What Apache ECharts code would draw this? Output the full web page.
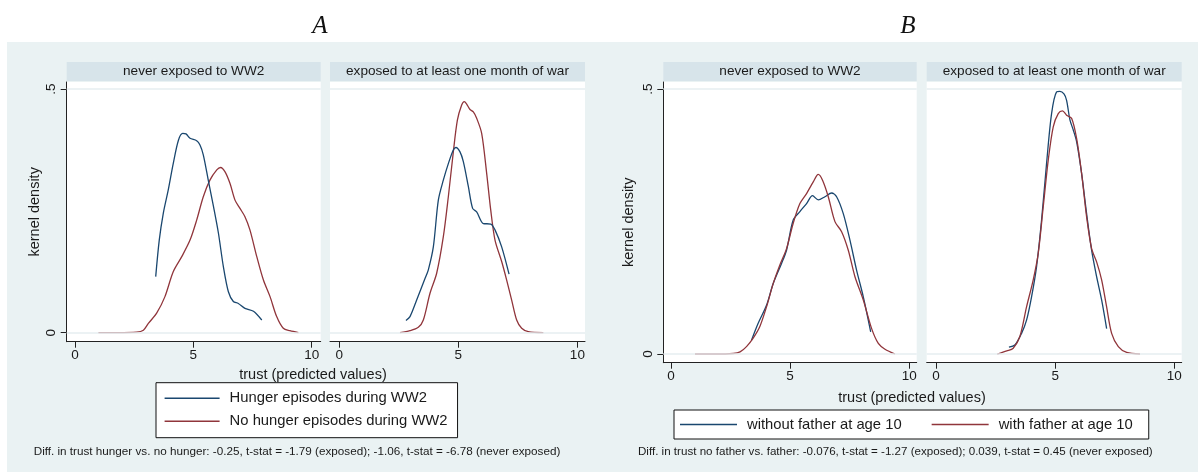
<!DOCTYPE html>
<html>
<head>
<meta charset="utf-8">
<script src="https://cdn.jsdelivr.net/npm/echarts@6/dist/echarts.min.js"></script>
<style>
html,body{margin:0;padding:0;background:#fff;}
#chart{width:1198px;height:472px;}
</style>
</head>
<body>
<div id="chart"></div>
<script>
// ---------- data ----------
const panelTitles = ['A', 'B'];
const facetTitles = ['never exposed to WW2', 'exposed to at least one month of war'];
const xTitle = 'trust (predicted values)';
const yTitle = 'kernel density';
const xTickValues = [0, 5, 10];
const xTickLabels = ['0', '5', '10'];
const yTickValues = [0, 0.5];
const yTickLabels = ['0', '.5'];
const seriesNamesA = ['Hunger episodes during WW2', 'No hunger episodes during WW2'];
const seriesNamesB = ['without father at age 10', 'with father at age 10'];
const noteA = 'Diff. in trust hunger vs. no hunger: -0.25, t-stat = -1.79 (exposed); -1.06, t-stat = -6.78 (never exposed)';
const noteB = 'Diff. in trust no father vs. father: -0.076, t-stat = -1.27 (exposed); 0.039, t-stat = 0.45 (never exposed)';

// Panel A, never exposed
const a1HungerX = [3.41,3.56,3.73,3.94,4.15,4.37,4.55,4.69,4.86,5.14,5.28,5.42,5.63,5.85,6.06,6.27,6.48,6.69,6.90,7.18,7.54,7.89];
const a1HungerY = [0.115,0.190,0.245,0.293,0.347,0.395,0.409,0.408,0.399,0.394,0.385,0.365,0.313,0.259,0.204,0.135,0.084,0.064,0.060,0.050,0.044,0.026];
const a1NoHungerX = [0.99,1.8,2.6,2.89,3.10,3.45,3.80,4.15,4.51,4.86,5.14,5.42,5.70,5.99,6.15,6.34,6.55,6.76,6.97,7.18,7.39,7.68,7.96,8.24,8.52,8.80,9.08,9.44];
const a1NoHungerY = [0,0,0.001,0.005,0.019,0.040,0.074,0.125,0.156,0.190,0.231,0.279,0.313,0.334,0.339,0.330,0.306,0.272,0.255,0.238,0.211,0.156,0.108,0.074,0.033,0.009,0.004,0];
// Panel A, exposed
const a2HungerX = [2.80,2.97,3.25,3.60,3.74,3.95,4.16,4.37,4.58,4.79,4.90,5.07,5.21,5.42,5.60,5.77,6.05,6.36,6.54,6.82,7.13];
const a2HungerY = [0.025,0.033,0.067,0.111,0.129,0.176,0.272,0.313,0.347,0.375,0.380,0.371,0.351,0.300,0.255,0.248,0.224,0.223,0.211,0.176,0.120];
const a2NoHungerX = [2.55,2.97,3.32,3.53,3.81,4.09,4.37,4.58,4.79,4.96,5.14,5.25,5.35,5.49,5.63,5.77,5.98,6.19,6.36,6.54,6.82,7.03,7.24,7.45,7.66,7.94,8.57];
const a2NoHungerY = [0,0.004,0.011,0.026,0.081,0.122,0.197,0.279,0.371,0.436,0.467,0.474,0.469,0.458,0.453,0.440,0.409,0.327,0.252,0.190,0.146,0.108,0.067,0.026,0.009,0.002,0];
// Panel B, never exposed
const b1NoFatherX = [3.38,3.66,4.01,4.29,4.64,4.85,5.13,5.41,5.69,5.94,6.18,6.46,6.74,6.95,7.23,7.51,7.79,8.07,8.38];
const b1NoFatherY = [0.026,0.058,0.092,0.133,0.171,0.196,0.253,0.269,0.284,0.299,0.291,0.297,0.304,0.297,0.265,0.215,0.158,0.108,0.042];
const b1FatherX = [1.01,1.8,2.62,2.90,3.17,3.45,3.73,4.01,4.29,4.57,4.85,5.13,5.41,5.69,5.97,6.18,6.36,6.60,6.88,7.16,7.44,7.72,8.07,8.42,8.70,8.98,9.40];
const b1FatherY = [0,0,0.001,0.004,0.014,0.030,0.052,0.089,0.133,0.168,0.199,0.247,0.284,0.303,0.325,0.339,0.328,0.297,0.250,0.231,0.196,0.146,0.102,0.048,0.020,0.009,0];
// Panel B, exposed
const b2NoFatherX = [3.06,3.31,3.59,3.80,4.01,4.22,4.43,4.64,4.85,5.06,5.20,5.37,5.48,5.62,5.76,5.90,6.11,6.32,6.53,6.74,6.95,7.16];
const b2NoFatherY = [0.013,0.017,0.039,0.064,0.108,0.165,0.253,0.360,0.454,0.495,0.496,0.491,0.479,0.442,0.423,0.401,0.341,0.265,0.196,0.146,0.102,0.048];
const b2FatherX = [2.57,2.97,3.24,3.52,3.80,4.08,4.29,4.50,4.71,4.92,5.13,5.31,5.48,5.69,5.90,6.11,6.32,6.53,6.74,6.95,7.16,7.37,7.65,8.00,8.56];
const b2FatherY = [0,0.006,0.011,0.033,0.089,0.140,0.190,0.278,0.366,0.429,0.454,0.459,0.451,0.445,0.407,0.341,0.259,0.199,0.174,0.140,0.089,0.039,0.014,0.003,0];

// ---------- styling ----------
const NAVY = '#1a476f';
const MAROON = '#90353b';
const BG = '#eaf2f3';
const STRIP = '#d7e4ea';
const FONT = "'Liberation Sans', Arial, Helvetica, sans-serif";
const TXT = '#1a1a1a';

const zip = (xs, ys) => xs.map((x, i) => [x, ys[i]]);

const grids = [
  {left: 66.7, top: 82, width: 254, height: 259.7, xmin: -0.35, xmax: 10.38, ymin: -0.0185, ymax: 0.5144},
  {left: 330, top: 82, width: 255, height: 259.7, xmin: -0.39, xmax: 10.32, ymin: -0.0185, ymax: 0.5144},
  {left: 663.3, top: 82, width: 253.4, height: 280.7, xmin: -0.32, xmax: 10.31, ymin: -0.0164, ymax: 0.5136},
  {left: 926.7, top: 82, width: 255, height: 280.7, xmin: -0.39, xmax: 10.31, ymin: -0.0164, ymax: 0.5136}
];

const gridOpts = grids.map(g => ({
  left: g.left, top: g.top, width: g.width, height: g.height,
  show: true, backgroundColor: '#fff', borderWidth: 0, containLabel: false
}));

const xAxes = grids.map((g, i) => ({
  type: 'value', gridIndex: i, min: g.xmin, max: g.xmax,
  axisLine: {show: true, onZero: false, lineStyle: {color: '#222', width: 1}},
  axisTick: {show: true, inside: false, length: 6, customValues: xTickValues, lineStyle: {color: '#222'}},
  axisLabel: {show: true, customValues: xTickValues, margin: 7,
    formatter: v => xTickLabels[xTickValues.indexOf(v)] ?? '',
    color: TXT, fontSize: 13.5, fontFamily: FONT},
  splitLine: {show: false}
}));

const yAxes = grids.map((g, i) => {
  const first = (i === 0 || i === 2);
  return {
    type: 'value', gridIndex: i, min: g.ymin, max: g.ymax,
    name: first ? yTitle : '', nameLocation: 'middle', nameGap: i === 0 ? 24 : 27,
    nameTextStyle: {color: TXT, fontSize: 14.5, fontFamily: FONT},
    axisLine: {show: first, onZero: false, lineStyle: {color: '#222', width: 1}},
    axisTick: {show: first, inside: false, length: 6, customValues: yTickValues, lineStyle: {color: '#222'}},
    axisLabel: {show: first, customValues: yTickValues, rotate: 90, margin: 8,
      formatter: v => yTickLabels[yTickValues.indexOf(v)] ?? '',
      color: TXT, fontSize: 13.5, fontFamily: FONT},
    splitLine: {show: false}
  };
});

const gridLineMark = {
  silent: true, symbol: 'none', label: {show: false},
  lineStyle: {color: '#e6eef1', width: 1.5, type: 'solid'},
  data: yTickValues.map(v => ({yAxis: v}))
};

function curve(name, color, idx, xs, ys, withGrid) {
  const s = {
    name, type: 'line', xAxisIndex: idx, yAxisIndex: idx,
    data: zip(xs, ys), symbol: 'none', showSymbol: false, smooth: 0.3,
    itemStyle: {color}, lineStyle: {color, width: 1.3}, z: 3
  };
  if (withGrid) s.markLine = gridLineMark;
  return s;
}

const series = [
  curve(seriesNamesA[1], MAROON, 0, a1NoHungerX, a1NoHungerY, true),
  curve(seriesNamesA[0], NAVY, 0, a1HungerX, a1HungerY, false),
  curve(seriesNamesA[1], MAROON, 1, a2NoHungerX, a2NoHungerY, true),
  curve(seriesNamesA[0], NAVY, 1, a2HungerX, a2HungerY, false),
  curve(seriesNamesB[0], NAVY, 2, b1NoFatherX, b1NoFatherY, true),
  curve(seriesNamesB[1], MAROON, 2, b1FatherX, b1FatherY, false),
  curve(seriesNamesB[0], NAVY, 3, b2NoFatherX, b2NoFatherY, true),
  curve(seriesNamesB[1], MAROON, 3, b2FatherX, b2FatherY, false)
];

const legendText = {color: TXT, fontSize: 14.8, fontFamily: FONT, padding: [0, 0, 0, 5], lineHeight: 17};
const legends = [
  {data: seriesNamesA, orient: 'vertical', left: 156, top: 382.7, padding: [7, 10, 8, 8.6],
   itemWidth: 55, itemHeight: 1.5, itemGap: 6, icon: 'rect', selectedMode: false,
   backgroundColor: '#fff', borderColor: '#111', borderWidth: 1, borderRadius: 0, textStyle: legendText},
  {data: seriesNamesB, orient: 'horizontal', left: 674, top: 410, padding: [6, 16, 6, 6],
   itemWidth: 57, itemHeight: 1.5, itemGap: 30, icon: 'rect', selectedMode: false,
   backgroundColor: '#fff', borderColor: '#111', borderWidth: 1, borderRadius: 0, textStyle: legendText}
];

const graphics = [
  {type: 'rect', shape: {x: 7, y: 42, width: 1191, height: 430}, style: {fill: BG}, z: -10, silent: true}
];
grids.forEach((g, i) => {
  graphics.push({type: 'rect', shape: {x: g.left, y: 62, width: g.width, height: 19}, style: {fill: STRIP}, silent: true});
  graphics.push({type: 'text', x: g.left + g.width / 2, y: 71.5,
    style: {text: facetTitles[i % 2], fill: TXT, font: '13.6px ' + FONT, textAlign: 'center', textVerticalAlign: 'middle'}, silent: true});
});
graphics.push(
  {type: 'text', x: 320, y: 26, style: {text: panelTitles[0], fill: '#111', font: "italic 25px 'Liberation Serif', 'DejaVu Serif', serif", textAlign: 'center', textVerticalAlign: 'middle'}},
  {type: 'text', x: 908, y: 26, style: {text: panelTitles[1], fill: '#111', font: "italic 25px 'Liberation Serif', 'DejaVu Serif', serif", textAlign: 'center', textVerticalAlign: 'middle'}},
  {type: 'text', x: 313, y: 375, style: {text: xTitle, fill: TXT, font: '14.5px ' + FONT, textAlign: 'center', textVerticalAlign: 'middle'}},
  {type: 'text', x: 912, y: 398, style: {text: xTitle, fill: TXT, font: '14.5px ' + FONT, textAlign: 'center', textVerticalAlign: 'middle'}},
  {type: 'text', x: 33.7, y: 452, style: {text: noteA, fill: TXT, font: '11.7px ' + FONT, textAlign: 'left', textVerticalAlign: 'middle'}},
  {type: 'text', x: 638, y: 451.7, style: {text: noteB, fill: TXT, font: '11.6px ' + FONT, textAlign: 'left', textVerticalAlign: 'middle'}}
);

const chart = echarts.init(document.getElementById('chart'), null, {renderer: 'canvas'});
chart.setOption({
  backgroundColor: '#fff',
  animation: false,
  textStyle: {fontFamily: FONT},
  grid: gridOpts,
  xAxis: xAxes,
  yAxis: yAxes,
  legend: legends,
  graphic: graphics,
  series
});
</script>
</body>
</html>
